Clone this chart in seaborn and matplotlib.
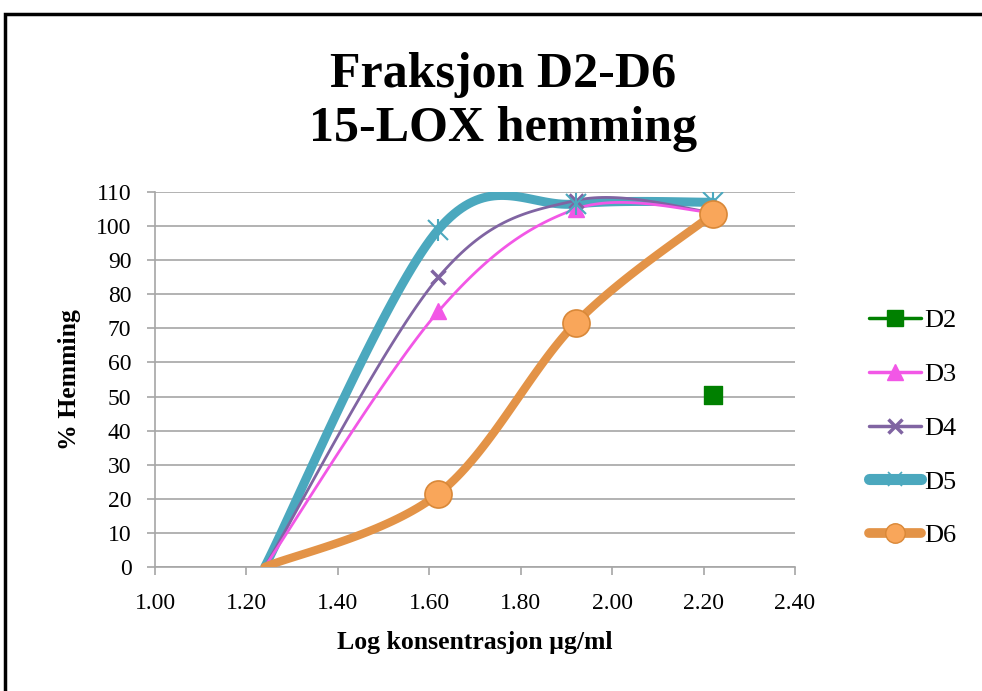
import numpy as np
import pandas as pd
import matplotlib
matplotlib.use("Agg")
import matplotlib.pyplot as plt
import seaborn as sns
from matplotlib.lines import Line2D
from matplotlib.patches import Rectangle

# ---- data ----
series_names = ["D2", "D3", "D4", "D5", "D6"]
x_d2 = [2.22]
y_d2 = [50.5]
x_main = [1.24, 1.62, 1.92, 2.22]
y_d3 = [0, 75, 105, 104]
y_d4 = [0, 85, 107.5, 104]
y_d5 = [0, 99, 106.5, 107]
y_d6 = [0, 21.5, 71.5, 103.5]
x_ticks = [1.00, 1.20, 1.40, 1.60, 1.80, 2.00, 2.20, 2.40]
y_ticks = list(range(0, 111, 10))

title = "Fraksjon D2-D6\n15-LOX hemming"
xlabel = "Log konsentrasjon µg/ml"
ylabel = "% Hemming"

colors = {"D2": "#008000", "D3": "#F257E6", "D4": "#8064A2", "D5": "#4BA8BE", "D6": "#E39347"}


def smooth(xs, ys, n=40):
    """Excel-style smoothed line (Catmull-Rom Bezier)."""
    P = np.column_stack([xs, ys]).astype(float)
    out = []
    m = len(P)
    for i in range(m - 1):
        p0 = P[max(i - 1, 0)]
        p1 = P[i]
        p2 = P[i + 1]
        p3 = P[min(i + 2, m - 1)]
        c1 = p1 + (p2 - p0) / 6.0
        c2 = p2 - (p3 - p1) / 6.0
        t = np.linspace(0, 1, n)[:, None]
        seg = (1 - t) ** 3 * p1 + 3 * (1 - t) ** 2 * t * c1 + 3 * (1 - t) * t ** 2 * c2 + t ** 3 * p2
        out.append(seg if i == 0 else seg[1:])
    out = np.vstack(out)
    return out[:, 0], out[:, 1]


sns.set_theme(style="white")
plt.rcParams["font.family"] = ["Liberation Serif", "DejaVu Serif"]
plt.rcParams["text.color"] = "black"
plt.rcParams["axes.labelcolor"] = "black"

fig = plt.figure(figsize=(9.82, 6.91), dpi=100)
ax = fig.add_axes([155 / 982, 1 - 567 / 691, 640 / 982, 375 / 691])

lw = {"D3": 2.0, "D4": 2.0, "D5": 6.5, "D6": 6.0}
z = {"D3": 4, "D4": 3, "D5": 2, "D6": 5}
ydata = {"D3": y_d3, "D4": y_d4, "D5": y_d5, "D6": y_d6}

for name in ["D5", "D4", "D3", "D6"]:
    sx, sy = smooth(x_main, ydata[name])
    df = pd.DataFrame({"x": sx, "y": sy})
    sns.lineplot(data=df, x="x", y="y", sort=False, estimator=None, color=colors[name],
                 linewidth=lw[name], ax=ax, zorder=z[name], solid_capstyle="round")

# markers
ax.plot(x_main[1:], y_d3[1:], linestyle="none", marker="^", markersize=11, color=colors["D3"], zorder=6)
ax.plot(x_main[1:], y_d4[1:], linestyle="none", marker="x", markersize=10, markeredgewidth=2.5,
        color=colors["D4"], zorder=6)
ax.plot(x_main[1:], y_d5[1:], linestyle="none", marker="x", markersize=14, markeredgewidth=1.5,
        color=colors["D5"], zorder=6)
ax.plot(x_main[1:], y_d5[1:], linestyle="none", marker="|", markersize=16, markeredgewidth=1.5,
        color=colors["D5"], zorder=6)
sns.scatterplot(x=x_main[1:], y=y_d6[1:], marker="o", s=380, color="#F9A65A", edgecolor="#D98838",
                linewidth=1.2, ax=ax, zorder=7)
sns.scatterplot(x=x_d2, y=y_d2, marker="s", s=150, color=colors["D2"], edgecolor=colors["D2"],
                ax=ax, zorder=7)

ax.set_xlim(1.0, 2.4)
ax.set_ylim(0, 110)
ax.set_xticks(x_ticks)
ax.set_xticklabels([f"{v:.2f}" for v in x_ticks])
ax.set_yticks(y_ticks)
ax.set_yticklabels([str(v) for v in y_ticks])
ax.grid(axis="y", color="#A6A6A6", linewidth=1.2)
ax.grid(axis="x", visible=False)
for s in ["top", "right"]:
    ax.spines[s].set_visible(False)
for s in ["left", "bottom"]:
    ax.spines[s].set_color("#A6A6A6")
    ax.spines[s].set_linewidth(1.2)
ax.tick_params(axis="both", which="major", direction="out", length=6, width=1.2, color="#A6A6A6",
               labelsize=17, labelcolor="black")
ax.tick_params(axis="x", bottom=True, pad=13)
ax.tick_params(axis="y", left=True, pad=11)
ax.set_xlabel(xlabel, fontsize=18.5, fontweight="bold", labelpad=12)
ax.set_ylabel(ylabel, fontsize=18.5, fontweight="bold", labelpad=11)
ax.set_facecolor("white")

fig.text(503 / 982, 1 - 102 / 691, title, ha="center", va="center", fontsize=36,
         fontweight="bold", linespacing=1.2)

handles = [
    Line2D([], [], color=colors["D2"], lw=2.5, marker="s", markersize=11),
    Line2D([], [], color=colors["D3"], lw=2.5, marker="^", markersize=11),
    Line2D([], [], color=colors["D4"], lw=2.5, marker="x", markersize=10, markeredgewidth=2.5),
    Line2D([], [], color=colors["D5"], lw=8, marker="x", markersize=10, markeredgewidth=1.2,
           solid_capstyle="round"),
    Line2D([], [], color=colors["D6"], lw=7, marker="o", markersize=14, markerfacecolor="#F9A65A",
           markeredgecolor="#D98838", solid_capstyle="round"),
]
fig.legend(handles, series_names, loc="center left", bbox_to_anchor=(858 / 982, 1 - 428 / 691),
           frameon=False, fontsize=19, handlelength=2.0, handletextpad=0.1, labelspacing=1.15,
           borderaxespad=0)

fig.add_artist(Rectangle((5 / 982, -0.1), 1.2, 1.1 - 14 / 691, transform=fig.transFigure,
                         fill=False, edgecolor="black", linewidth=2.5))

fig.savefig("out.png", dpi=100, facecolor="white")
